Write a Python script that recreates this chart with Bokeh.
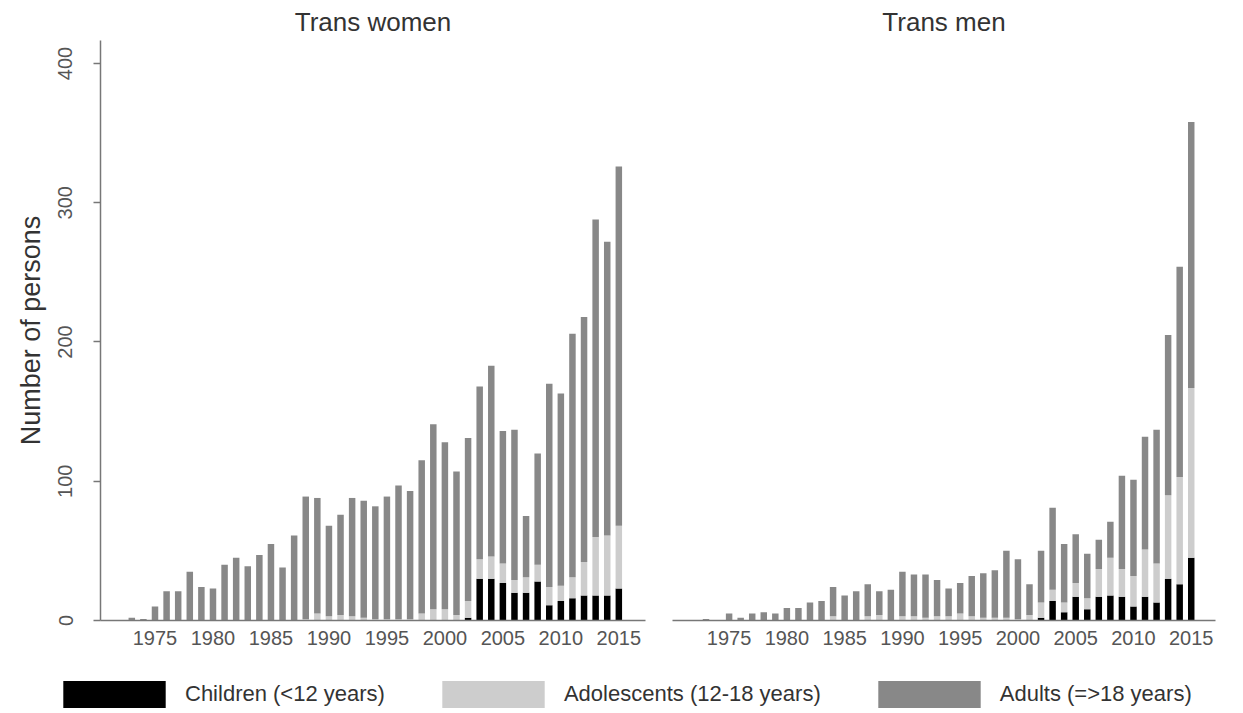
from bokeh.plotting import figure
from bokeh.models import (ColumnDataSource, Range1d, FixedTicker, Legend, LegendItem)
from bokeh.layouts import column, row
from bokeh.embed import file_html
from bokeh.resources import INLINE

# ---------------- data ----------------
years = list(range(1973, 2016))

# Trans women
tw_children = [0]*29 + [2, 30, 30, 27, 20, 20, 28, 11, 14, 16, 18, 18, 18, 23]
tw_adolescents = [0, 0, 0, 0, 0, 0, 0, 0, 0, 0, 0, 0, 0, 0, 0, 1, 5, 3, 4, 3,
                  2, 1, 1, 1, 1, 5, 8, 8, 4,
                  12, 14, 16, 14, 9, 11, 12, 13, 11, 15, 24, 42, 43, 45]
tw_adults = [2, 1, 10, 21, 21, 35, 24, 23, 40, 45, 39, 47, 55, 38, 61, 88, 83, 65, 72, 85,
             84, 81, 88, 96, 92, 110, 133, 120, 103,
             117, 124, 137, 95, 108, 44, 80, 146, 138, 175, 176, 228, 211, 258]

# Trans men
tm_children = [0]*29 + [2, 14, 6, 17, 8, 17, 18, 17, 10, 17, 13, 30, 26, 45]
tm_adolescents = [0, 0, 0, 0, 0, 0, 0, 0, 0, 0, 0, 3, 0, 0, 3, 4, 0, 3, 3, 2,
                  3, 3, 5, 3, 2, 2, 2, 1, 4,
                  11, 8, 7, 10, 8, 20, 27, 20, 22, 34, 28, 60, 77, 122]
tm_adults = [1, 0, 5, 2, 5, 6, 5, 9, 9, 13, 14, 21, 18, 21, 23, 17, 22, 32, 30, 31,
             26, 20, 22, 29, 32, 34, 48, 43, 22,
             37, 59, 42, 35, 32, 21, 26, 67, 69, 81, 96, 115, 151, 191]

tick_years = [1975, 1980, 1985, 1990, 1995, 2000, 2005, 2010, 2015]
panel_titles = ["Trans women", "Trans men"]
y_ticks = [0, 100, 200, 300, 400]
groups = ["children", "adolescents", "adults"]
group_labels = ["Children (<12 years)", "Adolescents (12-18 years)", "Adults (=>18 years)"]
group_colors = ["#000000", "#cdcdcd", "#888888"]

FONT = "Liberation Sans"

y_range = Range1d(0, 416.5)


def make_panel(title, children, adolescents, adults, show_y, width, bl, br, xr):
    src = ColumnDataSource(dict(year=years, children=children,
                                adolescents=adolescents, adults=adults))
    p = figure(width=width, height=655, x_range=Range1d(*xr),
               y_range=y_range, output_backend="svg", toolbar_location=None,
               y_axis_location="left" if show_y else None,
               min_border_left=bl, min_border_right=br, min_border_top=40,
               min_border_bottom=35)
    p.vbar_stack(groups, x="year", width=0.56, source=src, color=group_colors,
                 line_color=None)
    p.title.text = title
    p.title.align = "center"
    p.title.vertical_align = "top"
    p.title.text_font = FONT
    p.title.text_font_size = "26px"
    p.title.text_font_style = "normal"
    p.title.text_color = "#333333"
    p.title.standoff = 4
    p.outline_line_color = None
    p.grid.visible = False
    p.background_fill_color = "white"

    xa = p.xaxis[0]
    xa.ticker = FixedTicker(ticks=tick_years)
    xa.major_tick_line_color = None
    xa.minor_tick_line_color = None
    xa.major_tick_out = 0
    xa.major_tick_in = 0
    xa.major_label_standoff = 10
    xa.major_label_text_font = FONT
    xa.major_label_text_font_size = "20px"
    xa.major_label_text_color = "#555555"
    xa.axis_line_color = "#777777"
    xa.axis_line_width = 1.5

    if show_y:
        ya = p.yaxis[0]
        ya.ticker = FixedTicker(ticks=y_ticks)
        ya.minor_tick_line_color = None
        ya.major_tick_out = 7
        ya.major_tick_in = 0
        ya.major_tick_line_color = "#777777"
        ya.major_tick_line_width = 1.5
        ya.axis_line_color = "#777777"
        ya.axis_line_width = 1.5
        ya.major_label_orientation = "vertical"
        ya.major_label_standoff = 21
        ya.major_label_text_font = FONT
        ya.major_label_text_font_size = "20px"
        ya.major_label_text_color = "#555555"
        ya.axis_label = "Number of persons"
        ya.axis_label_text_font = FONT
        ya.axis_label_text_font_size = "27px"
        ya.axis_label_text_font_style = "normal"
        ya.axis_label_text_color = "#333333"
        ya.axis_label_standoff = 10
    return p


p1 = make_panel(panel_titles[0], tw_children, tw_adolescents, tw_adults, True,
                656, 100, 11, (1970.3, 2017.3))
p2 = make_panel(panel_titles[1], tm_children, tm_adolescents, tm_adults, False,
                584, 16, 25, (1970.1, 2017.1))

# legend strip
pl = figure(width=1240, height=56, x_range=Range1d(0, 1), y_range=Range1d(0, 1),
            output_backend="svg", toolbar_location=None, x_axis_location=None,
            y_axis_location=None, min_border=0)
pl.outline_line_color = None
pl.grid.visible = False
items = []
for lab, col in zip(group_labels, group_colors):
    r = pl.vbar(x=[0.5], top=[0], bottom=[0], width=0.1, fill_color=col, line_color=None)
    items.append(LegendItem(label=lab, renderers=[r]))
leg = Legend(items=items, orientation="horizontal", location=(50, 0),
             glyph_width=128, glyph_height=34, label_standoff=7, spacing=44,
             padding=0, margin=0, border_line_color=None, background_fill_alpha=0,
             label_text_font=FONT, label_text_font_size="22px",
             label_text_color="#333333", label_height=34)
pl.add_layout(leg)

layout = column(row(p1, p2), pl)

open("out.html", "w").write(file_html(layout, INLINE))
